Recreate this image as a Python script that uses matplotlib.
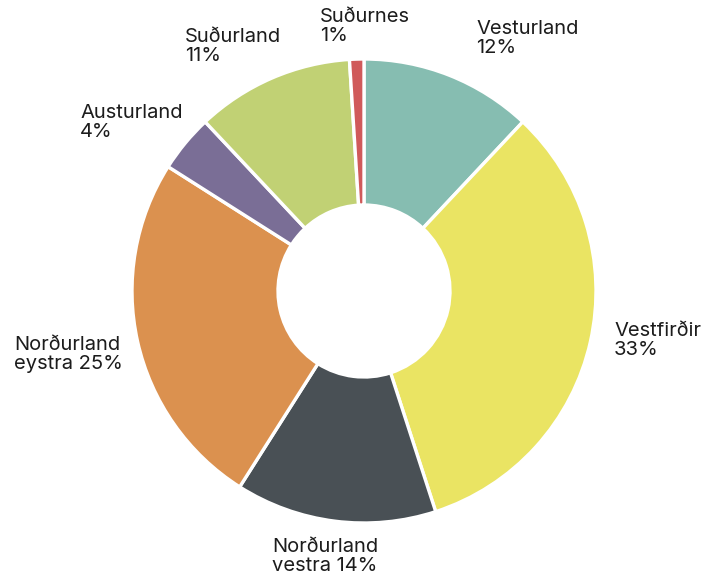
import matplotlib.pyplot as plt

regions = ['Vesturland', 'Vestfirðir', 'Norðurland\nvestra', 'Norðurland\neystra',
           'Austurland', 'Suðurland', 'Suðurnes']
shares = [12, 33, 14, 25, 4, 11, 1]
colors = ['#86BDB1', '#EAE463', '#495055', '#DB914F', '#7A6E96', '#C1D174', '#D05A5A']

# label anchors (top-left, pixel coords from the top of the image)
label_pos = [(476, 20), (614, 322), (272, 538), (14, 336), (80, 104), (185, 28), (320, 8)]

W, H = 716, 580
fig = plt.figure(figsize=(W / 100, H / 100), dpi=100)
ax = fig.add_axes([0, 0, 1, 1])

cx, cy, r = 364, H - 291, 232
ax.pie(shares, colors=colors, startangle=90, counterclock=False,
       center=(cx, cy), radius=r, frame=True,
       wedgeprops=dict(width=r - 86, edgecolor='white', linewidth=2.4))
ax.set_xlim(0, W)
ax.set_ylim(0, H)
ax.set_aspect('equal')
ax.axis('off')

for name, val, (x, y) in zip(regions, shares, label_pos):
    if '\n' in name:
        txt = f'{name} {val}%'
    else:
        txt = f'{name}\n{val}%'
    ax.text(x, H - y, txt, ha='left', va='top', fontsize=14.5,
            family='Inter', color='#1c1c1c', linespacing=1.08)

fig.savefig('out.png', dpi=100)
